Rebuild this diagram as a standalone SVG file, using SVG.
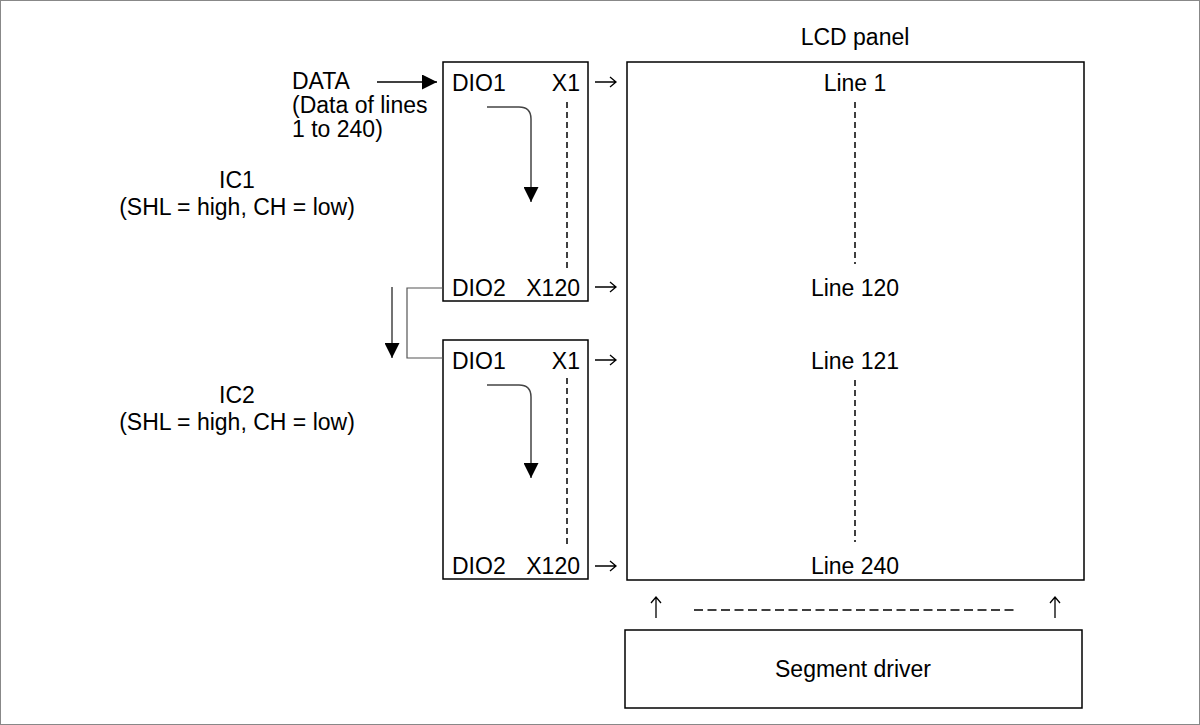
<svg xmlns="http://www.w3.org/2000/svg" width="1200" height="725" viewBox="0 0 1200 725">
<style>
text{font-family:"Liberation Sans",Arial,sans-serif;font-size:23px;fill:#000}
.box{fill:#fff;stroke:#000;stroke-width:1.5}
.dash{stroke:#000;stroke-width:1.5;stroke-dasharray:6,4;fill:none}
.hd{stroke:#000;stroke-width:1.5;stroke-dasharray:9,4.5;fill:none}
.flow{stroke:#444;stroke-width:1.5;fill:none}
.wire{stroke:#555;stroke-width:1.2;fill:none}
.thin{stroke:#000;stroke-width:1.2;fill:none}
.mid{text-anchor:middle}
.end{text-anchor:end}
</style>
<defs>
<marker id="tri15" viewBox="0 0 15 15" markerWidth="15" markerHeight="15" refX="15" refY="7.5" orient="auto" markerUnits="userSpaceOnUse">
<path d="M0,0 L15,7.5 L0,15 z" fill="#000"/>
</marker>
<path id="rarr" d="M0,0 H21 M15,-5 L21,0 L15,5" stroke="#000" stroke-width="1.3" fill="none"/>
<path id="uarr" d="M0,0 V-21 M-5,-15 L0,-21 L5,-15" stroke="#000" stroke-width="1.3" fill="none"/>
</defs>
<rect x="0.5" y="0.5" width="1199" height="724" fill="#fff" stroke="#888" stroke-width="1"/>

<g id="lcd-panel">
<text x="855" y="45" class="mid">LCD panel</text>
<rect class="box" x="627" y="62" width="457" height="518"/>
<text x="855" y="91" class="mid">Line 1</text>
<line class="dash" x1="855" y1="102" x2="855" y2="264"/>
<text x="855" y="296" class="mid">Line 120</text>
<text x="855" y="369" class="mid">Line 121</text>
<line class="dash" x1="855" y1="380" x2="855" y2="542"/>
<text x="855" y="574" class="mid">Line 240</text>
</g>

<g id="ic1">
<rect class="box" x="443" y="62" width="145" height="239"/>
<text x="452" y="91">DIO1</text>
<text x="580" y="91" class="end">X1</text>
<text x="452" y="296">DIO2</text>
<text x="580" y="296" class="end">X120</text>
<line class="dash" x1="567" y1="102" x2="567" y2="268"/>
<path class="flow" d="M487,107 H519 Q531,107 531,119 V202" marker-end="url(#tri15)"/>
</g>

<g id="ic1-label">
<text x="237" y="188" class="mid">IC1</text>
<text x="237" y="215" class="mid">(SHL = high, CH = low)</text>
</g>

<g id="ic2">
<rect class="box" x="443" y="340" width="145" height="239"/>
<text x="452" y="369">DIO1</text>
<text x="580" y="369" class="end">X1</text>
<text x="452" y="574">DIO2</text>
<text x="580" y="574" class="end">X120</text>
<line class="dash" x1="567" y1="378" x2="567" y2="544"/>
<path class="flow" d="M487,385 H519 Q531,385 531,397 V478" marker-end="url(#tri15)"/>
</g>

<g id="ic2-label">
<text x="237" y="403" class="mid">IC2</text>
<text x="237" y="430" class="mid">(SHL = high, CH = low)</text>
</g>

<g id="data-label">
<text x="292" y="89">DATA</text>
<text x="292" y="113">(Data of lines</text>
<text x="292" y="137">1 to 240)</text>
</g>

<g id="segment-driver">
<rect class="box" x="625" y="630" width="457" height="78"/>
<text x="853" y="677" class="mid">Segment driver</text>
</g>

<g id="connectors">
<line x1="377" y1="82" x2="437" y2="82" stroke="#000" stroke-width="1.5" marker-end="url(#tri15)"/>
<path class="wire" d="M443,288 H407 V358 H443"/>
<line x1="392" y1="287" x2="392" y2="358" stroke="#444" stroke-width="1.5" marker-end="url(#tri15)"/>
<use href="#rarr" x="595" y="82"/>
<use href="#rarr" x="595" y="287"/>
<use href="#rarr" x="595" y="360"/>
<use href="#rarr" x="595" y="566"/>
<use href="#uarr" x="656" y="618"/>
<use href="#uarr" x="1055" y="618"/>
<line class="hd" x1="694" y1="610" x2="1018" y2="610"/>
</g>
</svg>
